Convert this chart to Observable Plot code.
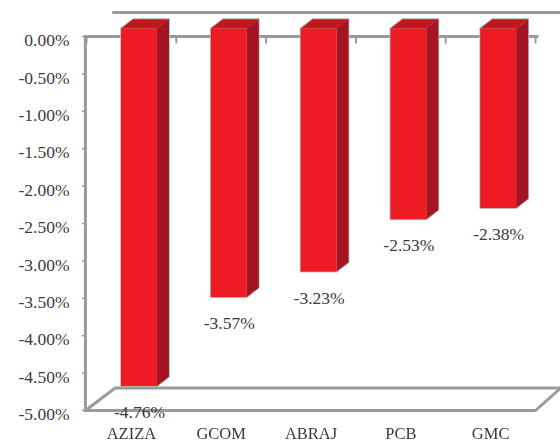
<!DOCTYPE html>
<html><head><meta charset="utf-8">
<style>html,body{margin:0;padding:0;background:#fff}svg{display:block;filter:blur(0.35px)}</style>
<script src="https://cdn.jsdelivr.net/npm/d3@7"></script>
<script src="https://cdn.jsdelivr.net/npm/@observablehq/plot@0.6"></script>
</head><body><div id="chart"></div>
<script>
const categories = ["AZIZA","GCOM","ABRAJ","PCB","GMC"];
const values = [-4.76,-3.57,-3.23,-2.53,-2.38];
const labels = ["-4.76%","-3.57%","-3.23%","-2.53%","-2.38%"];
const yTicks = [0,-0.5,-1,-1.5,-2,-2.5,-3,-3.5,-4,-4.5,-5];
const yLabels = ["0.00%","-0.50%","-1.00%","-1.50%","-2.00%","-2.50%","-3.00%","-3.50%","-4.00%","-4.50%","-5.00%"];

// 3D geometry in data units
const barL = 0.39, barW = 0.40, dX = 0.134, dY = 0.125, lift = 0.08, topLift = 0.1;
const bars = categories.map((c,i)=>({c,i,v:values[i],l:labels[i],
  x1:i+barL, x2:i+barL+barW, y1:values[i]+lift, y2:topLift}));
const sides = bars.flatMap(b=>[
  {c:b.c,x:b.x2,y1:b.y1,y2:b.y2},
  {c:b.c,x:b.x2+dX,y1:b.y1+dY,y2:b.y2+dY}]);
const tops = bars.flatMap(b=>[
  {c:b.c,x:b.x1,y1:b.y2,y2:b.y2},
  {c:b.c,x:b.x1+dX,y1:b.y2,y2:b.y2+dY},
  {c:b.c,x:b.x2,y1:b.y2,y2:b.y2+dY},
  {c:b.c,x:b.x2+dX,y1:b.y2+dY,y2:b.y2+dY}]);

const wallDX = 0.32, wallDY = 0.3, x0 = -0.012;
const axisLines = [
  [[x0,0],[x0,-5]],
  [[x0,0],[5.02,0]],
  [[x0,-5],[5,-5]],
  [[x0,-5],[wallDX,-5+wallDY]],
  [[wallDX,-5+wallDY],[5.28,-5+wallDY]],
  [[5,-5],[5.28,-5+wallDY]],
  [[0.3,0.32],[5.28,0.32]]
].flatMap((s,k)=>s.map(p=>({k,x:p[0],y:p[1]})));

const font = "'Liberation Serif', serif";
const gray = "#999a9b";
const halo = "#b4b4b4";
const plot = Plot.plot({
  width:560, height:442, margin:0,
  style:{fontFamily:font, background:"#fff", overflow:"visible"},
  x:{domain:[0,5], range:[86,535], axis:null},
  y:{domain:[0,-5], range:[36,410], axis:null},
  marks:[
    Plot.line(axisLines,{x:"x",y:"y",z:"k",stroke:gray,strokeWidth:3,curve:"linear"}),
    Plot.ruleY(yTicks,{x1:-0.045,x2:0,stroke:gray,strokeWidth:1.5}),
    Plot.ruleX([0,1,2,3,4,5],{y1:0,y2:-0.1,stroke:gray,strokeWidth:2}),
    // soft grey edge behind the bar faces
    Plot.areaY(tops,{x:"x",y1:"y1",y2:"y2",z:"c",fill:halo,stroke:halo,strokeWidth:1.6,curve:"linear"}),
    Plot.areaY(sides,{x:"x",y1:"y1",y2:"y2",z:"c",fill:halo,stroke:halo,strokeWidth:1.6,curve:"linear"}),
    Plot.rect(bars,{x1:"x1",x2:"x2",y1:"y1",y2:"y2",fill:halo,stroke:halo,strokeWidth:1.6}),
    // faces
    Plot.areaY(tops,{x:"x",y1:"y1",y2:"y2",z:"c",fill:"#c4161f",curve:"linear"}),
    Plot.areaY(sides,{x:"x",y1:"y1",y2:"y2",z:"c",fill:"#a51423",curve:"linear"}),
    Plot.rect(bars,{x1:"x1",x2:"x2",y1:"y1",y2:"y2",fill:"#ed1c24"}),
    Plot.text(yTicks,{x:0,y:d=>d,text:(d,i)=>yLabels[i],dx:-17,dy:4,textAnchor:"end",fontSize:17.5,fill:"#3a3a3a",fontFamily:font,letterSpacing:0.6}),
    Plot.text(bars,{x:d=>(d.x1+d.x2)/2,y:"v",text:"l",dy:20,fontSize:17.5,fill:"#3a3a3a",fontFamily:font,textAnchor:"middle",letterSpacing:0.6}),
    Plot.text(bars,{x:d=>d.i+0.5,y:-5,text:"c",dy:23,fontSize:16.5,fill:"#3a3a3a",fontFamily:font,textAnchor:"middle",letterSpacing:0.9})
  ]
});
document.getElementById("chart").appendChild(plot);
</script></body></html>
